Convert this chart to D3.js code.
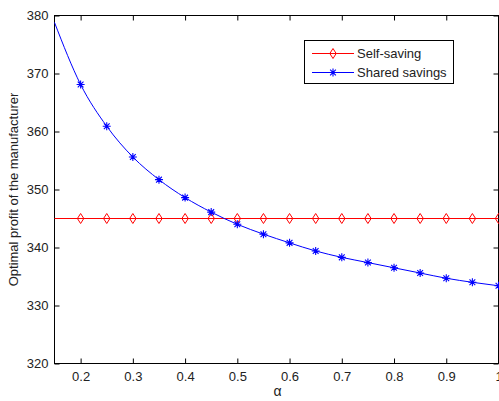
<!DOCTYPE html>
<html><head><meta charset="utf-8">
<script src="https://cdn.jsdelivr.net/npm/d3@7/dist/d3.min.js"></script>
<style>body{margin:0;background:#fff;}svg{display:block;}text{font-family:"Liberation Sans",Arial,sans-serif;}</style>
</head><body><svg id="c" width="499" height="401"></svg>
<script>
const alphaCurve = [0.15,0.2,0.25,0.3,0.35,0.4,0.45,0.5,0.55,0.6,0.65,0.7,0.75,0.8,0.85,0.9,0.95,1.0];
const sharedCurve = [378.8,368.1,360.9,355.6,351.7,348.6,346.1,344.0,342.3,340.8,339.4,338.3,337.4,336.5,335.6,334.7,334.0,333.4];
const markerAlpha = [0.2,0.25,0.3,0.35,0.4,0.45,0.5,0.55,0.6,0.65,0.7,0.75,0.8,0.85,0.9,0.95,1.0];
const selfSaving = 345;
const xTicks = [0.2,0.3,0.4,0.5,0.6,0.7,0.8,0.9,1];
const yTicks = [320,330,340,350,360,370,380];
const seriesNames = ["Self-saving","Shared savings"];

const svg = d3.select("#c");
const L=54.5, R=498.5, T=15.5, B=363.5;
const x = d3.scaleLinear().domain([0.15,1]).range([L,R]);
const y = d3.scaleLinear().domain([320,380]).range([B,T]);
const red="#ff0000", blue="#0000ff";

svg.append("rect").attr("x",L).attr("y",T).attr("width",R-L).attr("height",B-T).attr("fill","none").attr("stroke","#000").attr("stroke-width",1);
const fmtX = d=> d===1? "1" : d3.format(".1f")(d);
const axB = svg.append("g").attr("transform",`translate(0,${B})`).call(d3.axisBottom(x).tickValues(xTicks).tickSize(-5).tickPadding(8).tickFormat(fmtX));
const axT = svg.append("g").attr("transform",`translate(0,${T})`).call(d3.axisTop(x).tickValues(xTicks).tickSize(-5).tickFormat(""));
const axL = svg.append("g").attr("transform",`translate(${L},0)`).call(d3.axisLeft(y).tickValues(yTicks).tickSize(-5).tickPadding(6));
const axR = svg.append("g").attr("transform",`translate(${R},0)`).call(d3.axisRight(y).tickValues(yTicks).tickSize(-5).tickFormat(""));
[axB,axT,axL,axR].forEach(g=>{g.select(".domain").remove();g.selectAll("line").attr("stroke","#000");g.selectAll("text").attr("font-size",13).attr("fill","#222").attr("font-family","'Liberation Sans',Arial,sans-serif");});

const redG = svg.append("g");
redG.append("line").attr("x1",x(0.15)).attr("x2",x(1)).attr("y1",y(selfSaving)).attr("y2",y(selfSaving)).attr("stroke",red).attr("stroke-width",1);
const diamond = (cx,cy,g,col)=> g.append("path").attr("d",`M${cx},${cy-5}L${cx+3.2},${cy}L${cx},${cy+5}L${cx-3.2},${cy}Z`).attr("fill","none").attr("stroke",col).attr("stroke-width",1);
markerAlpha.forEach(a=>diamond(x(a),y(selfSaving),redG,red));

const line = d3.line().x((d,i)=>x(alphaCurve[i])).y(d=>y(d)).curve(d3.curveMonotoneX);
svg.append("path").datum(sharedCurve).attr("d",line).attr("fill","none").attr("stroke",blue).attr("stroke-width",1);
const star = (cx,cy,g,col)=>{
  const r=4;
  let p=`M${cx},${cy-r}L${cx},${cy+r}M${cx-r},${cy}L${cx+r},${cy}`;
  const k=r*0.72;
  p+=`M${cx-k},${cy-k}L${cx+k},${cy+k}M${cx-k},${cy+k}L${cx+k},${cy-k}`;
  g.append("path").attr("d",p).attr("stroke",col).attr("stroke-width",1.1).attr("fill","none");
};
const blueG = svg.append("g");
markerAlpha.forEach(a=>{const i=alphaCurve.indexOf(a); star(x(a),y(sharedCurve[i]),blueG,blue);});

svg.append("text").attr("x",(L+R)/2+1).attr("y",396).attr("text-anchor","middle").attr("font-size",14).attr("fill","#222").text("α");
svg.append("text").attr("transform",`translate(18,${(T+B)/2}) rotate(-90)`).attr("text-anchor","middle").attr("font-size",13).attr("fill","#222").text("Optimal profit of the manufacturer");

const lg = svg.append("g");
lg.append("rect").attr("x",304.5).attr("y",40.5).attr("width",149).attr("height",43).attr("fill","#fff").attr("stroke","#000");
const rows=[{n:seriesNames[0],c:red,m:"d",yy:53.5},{n:seriesNames[1],c:blue,m:"s",yy:72.5}];
rows.forEach(r=>{
  lg.append("line").attr("x1",312).attr("x2",354).attr("y1",r.yy).attr("y2",r.yy).attr("stroke",r.c);
  if(r.m==="d") diamond(333,r.yy,lg,r.c); else star(333,r.yy,lg,r.c);
  lg.append("text").attr("x",357).attr("y",r.yy+4.5).attr("font-size",13).attr("fill","#222").text(r.n);
});
</script></body></html>
